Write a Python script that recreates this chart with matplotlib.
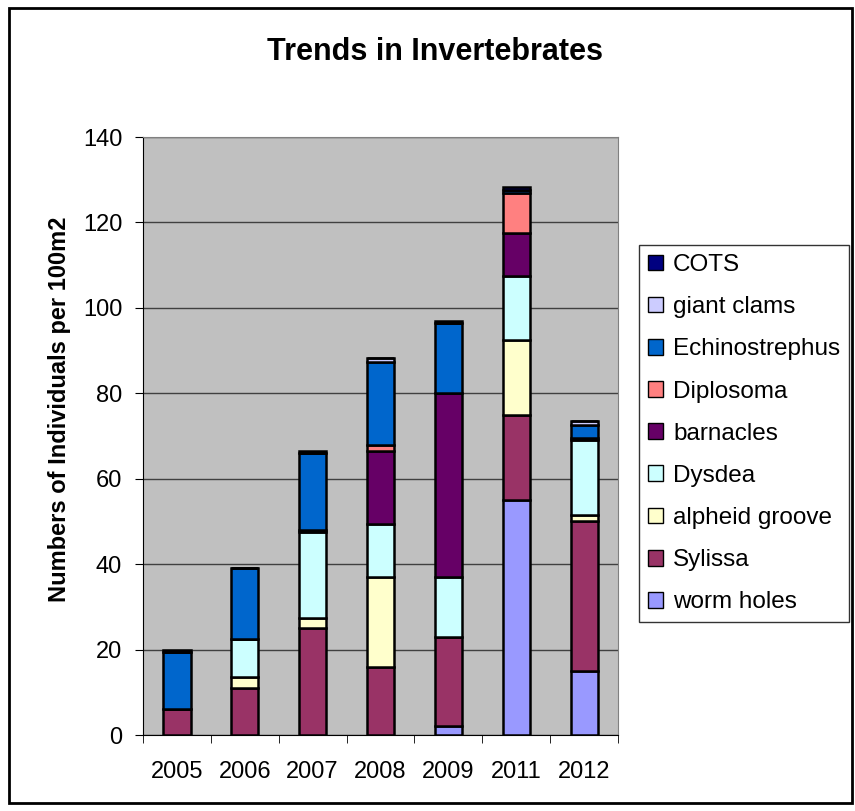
import matplotlib
matplotlib.use('Agg')
import matplotlib.pyplot as plt
from matplotlib.patches import Rectangle
import numpy as np

plt.rcParams['font.family'] = ['Liberation Sans', 'DejaVu Sans']

years = ['2005', '2006', '2007', '2008', '2009', '2011', '2012']

# stacked bottom -> top
worm_holes = [0, 0, 0, 0, 2, 55, 15]
sylissa = [6, 11, 25, 16, 21, 20, 35]
alpheid_groove = [0, 2.5, 2.5, 21, 0, 17.5, 1.5]
dysdea = [0, 9, 20, 12.5, 14, 15, 17.5]
barnacles = [0, 0, 0.5, 17, 43, 10, 0.6]
diplosoma = [0, 0, 0, 1.3, 0, 9.3, 0]
echinostrephus = [13.5, 16.5, 18, 19.5, 16.5, 0.7, 3]
giant_clams = [0, 0, 0, 1, 0, 0, 1]
cots = [0.5, 0, 0.5, 0, 0.5, 0.7, 0]

series = [
    ('worm holes', worm_holes, '#9999FF'),
    ('Sylissa', sylissa, '#993366'),
    ('alpheid groove', alpheid_groove, '#FFFFCC'),
    ('Dysdea', dysdea, '#CCFFFF'),
    ('barnacles', barnacles, '#660066'),
    ('Diplosoma', diplosoma, '#FF8080'),
    ('Echinostrephus', echinostrephus, '#0066CC'),
    ('giant clams', giant_clams, '#CCCCFF'),
    ('COTS', cots, '#000080'),
]

fig = plt.figure(figsize=(8.55, 8.11), dpi=100)
ax = fig.add_axes([143 / 855, 1 - 735 / 811, 475 / 855, 598 / 811])
ax.set_facecolor('#C0C0C0')

x = np.arange(len(years))
bottom = np.zeros(len(years))
handles = []
for name, vals, col in series:
    vals = np.array(vals, dtype=float)
    b = ax.bar(x, vals, width=0.4, bottom=bottom, color=col,
               edgecolor='black', linewidth=1.8, label=name, zorder=3)
    handles.append(b)
    bottom += vals

ax.set_xlim(-0.5, len(years) - 0.5)
ax.set_ylim(0, 140)
ax.set_yticks(range(0, 141, 20))
ax.yaxis.grid(True, color='#404040', linewidth=1, zorder=0)
ax.set_axisbelow(True)

ax.set_xticks(x)
ax.set_xticklabels(years, fontsize=17)
ax.set_xticks(np.arange(-0.5, len(years), 1), minor=True)
ax.tick_params(axis='x', which='major', length=0, pad=19)
ax.tick_params(axis='x', which='minor', length=6, direction='out', color='black')
ax.tick_params(axis='y', labelsize=17, length=6, direction='out', pad=9)

for s in ['top', 'right']:
    ax.spines[s].set_color('#808080')
for s in ['left', 'bottom']:
    ax.spines[s].set_color('black')

ax.set_ylabel('Numbers of Individuals per 100m2', fontsize=17,
              fontweight='bold')
ax.yaxis.set_label_coords(-0.152, 0.545)

fig.text(435 / 855, 1 - 52 / 811, 'Trends in Invertebrates',
         ha='center', va='center', fontsize=22, fontweight='bold')

leg = fig.legend(handles[::-1], [s[0] for s in series][::-1],
                 loc='upper left', bbox_to_anchor=(639 / 855, 1 - 245 / 811),
                 fontsize=17.5, frameon=True, fancybox=False, edgecolor='black',
                 labelspacing=0.83, handlelength=0.62, handleheight=0.62,
                 handletextpad=0.41, borderpad=0.37, borderaxespad=0)
leg.get_frame().set_linewidth(1)
for h in leg.legend_handles:
    h.set_linewidth(1)

fig.add_artist(Rectangle((9 / 855, 8 / 811), 843 / 855, 795 / 811,
                         transform=fig.transFigure, fill=False,
                         edgecolor='black', linewidth=2))

fig.savefig('out.png', dpi=100, facecolor='white')
